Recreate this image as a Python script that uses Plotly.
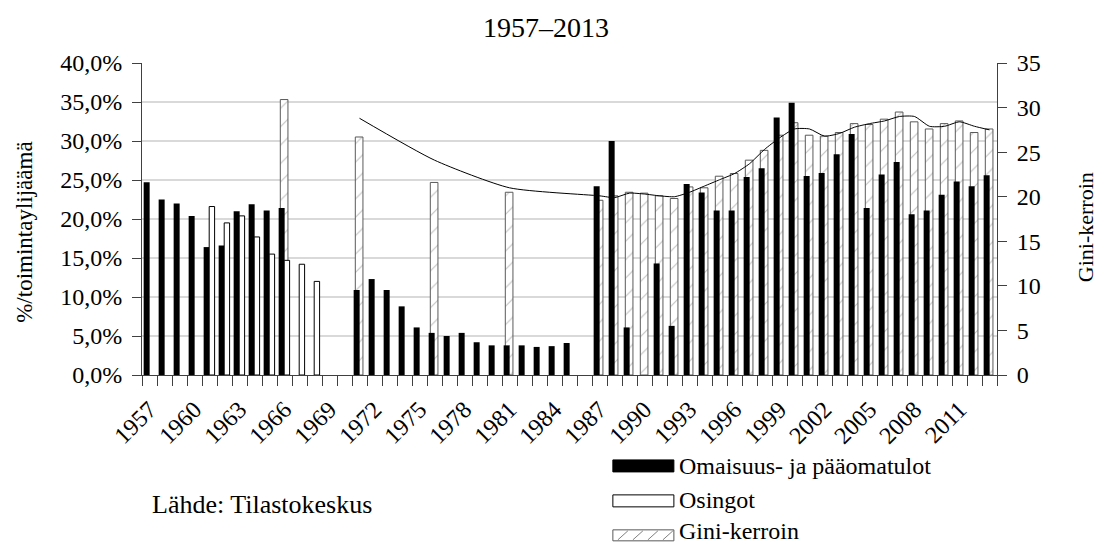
import plotly.graph_objects as go

years = list(range(1957, 2014))

# Omaisuus- ja pääomatulot (% of operating surplus), left axis
omaisuus = [24.7, 22.5, 22.0, 20.4, 16.4, 16.6, 21.0, 21.9, 21.1, 21.4,
            None, None, None, None, 10.9, 12.3, 10.9, 8.8, 6.1, 5.4,
            5.0, 5.4, 4.2, 3.8, 3.8, 3.8, 3.6, 3.7, 4.1, None,
            24.2, 30.0, 6.1, None, 14.3, 6.3, 24.5, 23.4, 21.1, 21.1,
            25.4, 26.5, 33.0, 34.9, 25.5, 25.9, 28.3, 30.9, 21.4, 25.7,
            27.3, 20.6, 21.1, 23.1, 24.8, 24.2, 25.6]

# Osingot (% of operating surplus), left axis
osingot = [None, None, None, None, 21.6, 19.5, 20.4, 17.7, 15.5, 14.7,
           14.2, 12.0] + [None] * 45

# Gini-kerroin bars, right axis
gini = [None] * 9 + [30.9] + [None] * 4 + [26.7] + [None] * 4 + [21.6] + [None] * 4 + [20.5] + [None] * 5 + \
       [19.6, 20.1, 20.5, 20.4, 20.1, 19.8, 21.1, 21.0, 22.3, 22.6,
        24.1, 25.2, 26.9, 28.3, 26.9, 26.8, 27.2, 28.2, 28.1, 28.7,
        29.5, 28.4, 27.6, 28.2, 28.5, 27.2, 27.6]

# Gini line, right axis
gini_line = [None] * 14 + [28.8] + [None] * 4 + [24.1] + [None] * 4 + [21.0] + [None] * 5 + \
            [20.1, 19.9, 20.4, 20.3, 20.1, 20.0, 20.5, 21.2, 21.9, 22.6,
             23.7, 25.3, 26.6, 27.6, 27.6, 26.8, 27.1, 27.8, 28.2, 28.5,
             29.0, 29.0, 27.9, 27.9, 28.4, 27.9, 27.5]

tick_years = list(range(1957, 2012, 3))
tick_labels = [str(y) for y in tick_years]
pct_ticks = [i * 0.05 for i in range(9)]
gini_ticks = list(range(0, 36, 5))

FONT = "Liberation Serif"
OFF = 8  # page body margin
W, H = 1102 - OFF, 543 - OFF
PL, PR, PT, PB = 142.3 - OFF, 997.0 - OFF, 62.7 - OFF, 375.0 - OFF


def px(x):
    return (x - OFF - PL) / (PR - PL)


def py(y):
    return (PB - (y - OFF)) / (PB - PT)


fig = go.Figure()

fig.add_trace(go.Bar(
    x=years, y=gini, yaxis="y", offset=-0.28, width=0.51,
    marker=dict(color="white", line=dict(color="#595959", width=1),
                pattern=dict(shape="/", fgcolor="#808080", bgcolor="white",
                             size=13, solidity=0.08)),
    name="Gini-kerroin", showlegend=False))

fig.add_trace(go.Scatter(
    x=years, y=gini_line, yaxis="y", mode="lines", connectgaps=True,
    line=dict(color="black", width=1, shape="spline", smoothing=0.6),
    showlegend=False, name="Gini"))

fig.add_trace(go.Bar(
    x=years, y=[v / 100 if v is not None else None for v in omaisuus],
    yaxis="y2", offset=-0.39, width=0.4,
    marker=dict(color="black", line=dict(width=0)),
    name="Omaisuus- ja pääomatulot", showlegend=False))

fig.add_trace(go.Bar(
    x=years, y=[v / 100 if v is not None else None for v in osingot],
    yaxis="y2", offset=-0.02, width=0.36,
    marker=dict(color="white", line=dict(color="black", width=1)),
    name="Osingot", showlegend=False))

axis_color = "#404040"
tickfont = dict(family=FONT, size=24, color="black")

fig.update_layout(
    width=W, height=H,
    margin=dict(l=PL, r=W - PR, t=PT, b=H - PB, pad=0),
    paper_bgcolor="white", plot_bgcolor="white",
    barmode="overlay",
    separators=", ",
    font=dict(family=FONT, color="black"),
    xaxis=dict(
        range=[1956.5, 2013.5], tickmode="array", tickvals=tick_years,
        ticktext=tick_labels, tickangle=-45, tickfont=tickfont,
        ticks="outside", ticklen=10, tickcolor="rgba(0,0,0,0)",
        showline=True, linecolor=axis_color, linewidth=1,
        showgrid=False, zeroline=False,
        minor=dict(tickmode="linear", tick0=1956.5, dtick=1, ticks="outside",
                   ticklen=10, tickcolor=axis_color, tickwidth=1, showgrid=False),
    ),
    yaxis=dict(
        side="right", range=[0, 35], tickmode="array", tickvals=gini_ticks,
        tickfont=tickfont, ticks="outside", ticklen=9, tickcolor=axis_color,
        ticklabelstandoff=5,
        showline=True, linecolor=axis_color, linewidth=1,
        showgrid=False, zeroline=False,
    ),
    yaxis2=dict(
        overlaying="y", side="left", range=[0, 0.40], tickmode="array",
        tickvals=pct_ticks, tickformat=".1%", tickfont=tickfont,
        ticks="outside", ticklen=9, tickcolor=axis_color,
        ticklabelstandoff=5,
        showline=True, linecolor=axis_color, linewidth=1,
        showgrid=True, gridcolor="#d9d9d9", gridwidth=1.5, zeroline=False,
    ),
)

ann = [
    dict(x=px(546), y=py(27), text="1957–2013", font=dict(size=28)),
    dict(x=px(24), y=py(232), text="%/toimintaylijäämä", textangle=-90,
         font=dict(size=23)),
    dict(x=px(1085), y=py(227), text="Gini-kerroin", textangle=-90,
         font=dict(size=22)),
    dict(x=px(150), y=py(505), text="Lähde: Tilastokeskus", xanchor="left",
         font=dict(size=26)),
]
legend_rows = [("Omaisuus- ja pääomatulot", 466), ("Osingot", 500),
               ("Gini-kerroin", 531)]
for txt, yc in legend_rows:
    ann.append(dict(x=px(677), y=py(yc), text=txt, xanchor="left",
                    font=dict(size=24)))
for a in ann:
    a.setdefault("xanchor", "center")
    a.update(xref="paper", yref="paper", yanchor="middle", showarrow=False)
    a["font"].update(family=FONT, color="black")
fig.update_layout(annotations=ann)

# manual legend swatches
shapes = []
sx0, sx1 = px(613), px(674)
shapes.append(dict(type="rect", xref="paper", yref="paper", x0=sx0, x1=sx1,
                   y0=py(472), y1=py(460), fillcolor="black",
                   line=dict(color="black", width=1)))
shapes.append(dict(type="rect", xref="paper", yref="paper", x0=sx0, x1=sx1,
                   y0=py(507), y1=py(495), fillcolor="white",
                   line=dict(color="black", width=1)))
shapes.append(dict(type="rect", xref="paper", yref="paper", x0=sx0, x1=sx1,
                   y0=py(541), y1=py(530), fillcolor="white",
                   line=dict(color="#595959", width=1)))
for k in range(4):
    xa = 618 + k * 15
    shapes.append(dict(type="line", xref="paper", yref="paper",
                       x0=px(xa), y0=py(540), x1=px(xa + 10), y1=py(531),
                       line=dict(color="#808080", width=1)))
fig.update_layout(shapes=shapes)

fig.write_html("out.html")
